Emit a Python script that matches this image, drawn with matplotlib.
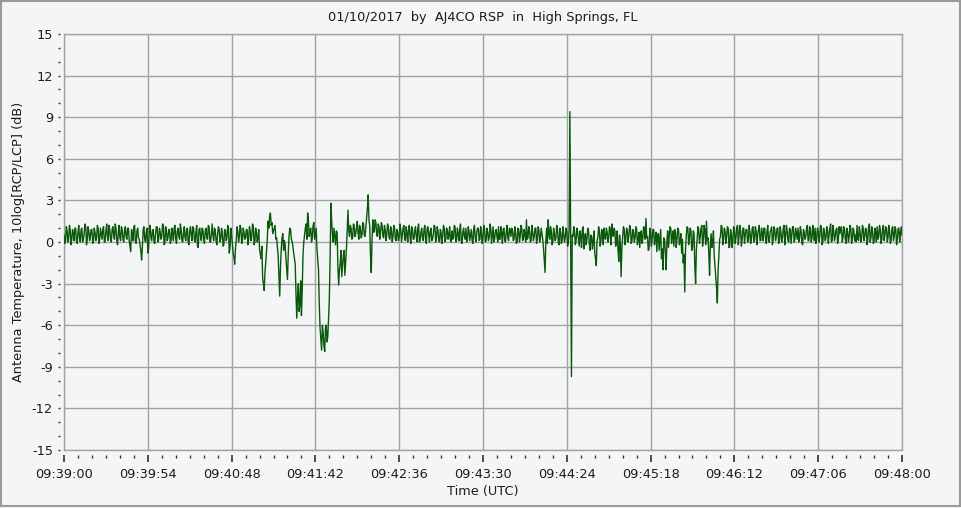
import matplotlib
matplotlib.use("Agg")
import matplotlib.pyplot as plt
import numpy as np
from matplotlib.path import Path
from matplotlib.patches import Rectangle
from matplotlib.ticker import FixedLocator, MultipleLocator

plt.rcParams['font.family'] = ['DejaVu Sans']
plt.rcParams['axes.unicode_minus'] = False

title = "01/10/2017  by  AJ4CO RSP  in  High Springs, FL"
x_label = "Time (UTC)"
y_label = "Antenna Temperature, 10log[RCP/LCP] (dB)"

# readings on whole seconds after 09:39:00 UTC
ratio_db = [
    0.5, 0.1, 0.8, 0.3, 0.9, 0.2, 0.6, 1.0, 0.1, 0.7,
    0.3, 0.9, 0.0, 0.6, 1.1, 0.2, 0.8, 0.4, 0.9, 0.1,
    0.7, 0.3, 1.0, 0.2, 0.6, 0.9, 0.0, 0.8, 0.4, 1.2,
    0.2, 0.9, 0.5, 1.3, 0.1, 0.7, 0.3, 1.1, 0.2, 0.8,
    0.4, 1.0, 0.1, -0.7, 0.6, 1.1, 0.0, 0.8, 0.3, -0.2,
    -1.3, 0.9, 0.2, 0.7, -0.8, 1.0, 0.3, 0.8, 0.0, 0.6,
    1.1, 0.2, 0.7, 0.4, 1.2, -0.1, 0.8, 0.3, 0.9, 0.1,
    0.6, 1.0, 0.2, 0.8, 0.4, 1.3, 0.1, 0.7, 0.3, 0.9,
    0.0, 0.8, 0.5, 1.1, 0.2, 0.7, -0.3, 0.9, 0.4, 1.0,
    0.2, 0.8, 0.3, 1.2, 0.0, 0.7, 0.4, 1.0, 0.1, 0.6,
    0.9, 0.2, 0.7, -0.2, 0.8, 0.3, 1.0, -0.4, 0.5, -0.8,
    -1.6, 0.2, 0.8, 0.4, 1.0, 0.1, 0.7, 0.3, 0.9, 0.2,
    0.8, 0.4, 1.1, 0.0, 0.7, 0.3, -0.5, -1.2, -2.6, -3.5,
    -1.5, 0.2, 1.0, 2.1, 1.4, 0.8, 1.2, 0.3, -1.0, -3.9,
    -0.5, 0.6, 0.1, -1.2, -2.7, 0.4, 0.9, 0.0, -0.8, -1.6,
    -5.5, -3.0, -4.5, -5.3, -1.0, 0.5, 1.3, 2.1, 0.4, 1.0,
    0.3, 1.4, 0.6, -0.5, -2.0, -6.2, -7.8, -6.5, -7.9, -6.0,
    -6.8, -4.0, 2.8, 0.5, 1.0, -0.2, 0.7, -3.1, -1.5, -2.5,
    -1.0, -2.4, -0.5, 2.3, 0.4, 1.0, 0.3, 1.2, 0.6, 1.5,
    0.2, 0.9, 0.5, 1.3, 0.4, 1.8, 3.4, 1.2, -2.2, 1.6,
    0.8, 1.4, 0.4, 1.1, 0.7, 1.2, 0.3, 0.9, 0.5, 1.1,
    0.2, 0.8, 0.4, 1.0, 0.1, 0.7, 0.3, 0.9, 0.5, 1.2,
    0.1, 0.6, 0.9, 0.3, 1.1, 0.2, 0.8, 0.4, 1.0, 0.0,
    0.7, 0.3, 0.9, 0.2, 1.0, 0.5, 0.8, 0.1, 0.6, 1.1,
    0.3, 0.8, 0.0, 0.7, 0.4, 1.0, 0.2, 0.9, 0.5, 0.1,
    0.8, 0.3, 1.1, 0.2, 0.6, 0.9, 0.0, 0.7, 0.4, 1.0,
    0.2, 0.8, 0.5, 0.1, 0.9, 0.3, 0.7, 1.0, 0.2, 0.6,
    0.4, 0.9, 0.1, 0.7, 0.3, 1.0, 0.5, 0.0, 0.8, 0.4,
    1.1, 0.2, 0.6, 0.9, 0.1, 0.7, 0.3, 1.0, 0.4, 0.8,
    0.2, 0.7, 0.0, 0.9, 0.4, 1.0, 0.2, 0.6, 1.6, 0.3,
    0.8, 0.1, 0.7, 0.4, 1.0, 0.2, 0.9, 0.3, 0.6, -0.5,
    -2.2, 1.0, 1.6, 0.2, 0.8, 0.0, 0.6, 0.3, 0.9, -0.2,
    0.7, 0.1, 0.6, 0.3, 0.8, 0.0, 9.4, -9.7, 0.4, 0.8,
    0.1, 0.7, -0.3, 0.5, 0.9, -0.5, 0.6, 0.2, 0.8, -0.6,
    0.4, 0.0, -0.8, -1.7, 0.3, 0.8, 0.1, 0.6, 1.0, 0.2,
    0.7, 0.3, 0.9, 1.3, 0.4, 0.8, 0.0, -0.6, 0.5, -2.5,
    0.3, 0.9, 0.2, 0.8, 0.5, 1.0, 0.1, 0.7, 0.3, 0.9,
    0.2, -0.4, 0.8, 0.3, 1.0, 1.7, 0.4, -0.5, 0.7, 0.2,
    0.9, 0.3, -0.7, 0.6, 0.1, -1.2, -2.0, 0.2, -2.0, 0.8,
    0.3, 1.0, 0.4, -0.3, 0.7, 0.2, 0.9, 0.0, -0.8, -1.5,
    -3.6, 0.5, 1.0, 0.3, 0.8, -0.4, 0.6, -3.0, 0.2, 0.9,
    0.4, 1.2, 0.2, 0.8, 1.5, 0.3, -2.4, 0.6, 0.0, -1.0,
    -2.5, -4.4, -1.0, 0.4, 1.1, 0.2, 0.8, 0.4, 1.0, -0.3,
    0.6, 0.1, 0.9, 0.3, 1.2, 0.4, 0.8, 0.2, 1.0, 0.5,
    0.9, 0.1, 0.7, 0.3, 1.1, 0.2, 0.8, 0.5, 1.2, 0.1,
    0.6, 1.0, 0.3, 0.8, 0.0, 0.7, 1.1, 0.2, 0.9, 0.4,
    1.0, 0.1, 0.7, 0.3, 1.2, 0.4, 0.8, 0.0, 0.9, 0.5,
    1.1, 0.2, 0.6, 1.0, 0.3, 0.8, -0.2, 0.7, 0.4, 1.2,
    0.1, 0.9, 0.3, 0.7, 1.0, 0.2, 0.8, 0.4, 1.1, 0.0,
    0.7, 0.3, 0.9, 0.5, 1.3, 0.1, 0.8, 0.4, 1.0, 0.2,
    0.6, 1.1, 0.3, 0.9, -0.1, 0.7, 0.4, 1.0, 0.2, 0.8,
    0.5, 1.2, 0.1, 0.7, 0.3, 1.0, 0.4, 0.9, 0.2, 1.3,
    0.3, 0.8, 0.0, 0.7, 1.1, 0.4, 0.9, 0.2, 1.2, 0.5,
    1.0, 0.3, 0.8, 0.1, 1.1, 0.4, 0.9, 0.2, 1.0, 0.6,
    0.5,
]

# readings on half seconds (0.5 s after each whole-second reading)
ratio_db_half = [
    -0.1, 1.1, 0.0, 1.2, -0.2, 0.9, 0.1, 1.0, -0.1, 1.2,
    0.0, 1.0, 0.2, 1.3, -0.2, 1.1, 0.1, 0.9, -0.1, 1.0,
    0.1, 1.2, -0.1, 1.0, 0.2, 1.1, 0.0, 1.3, 0.1, 0.9,
    0.0, 1.1, 0.2, 1.0, -0.2, 1.2, 0.1, 0.9, 0.0, 1.1,
    0.2, 1.0, -0.3, 0.9, 0.1, 1.2, -0.1, 1.0, 0.2, -0.6,
    -0.4, 1.1, 0.0, 1.0, -0.5, 1.2, 0.1, 0.9, -0.1, 1.1,
    0.0, 1.0, 0.2, 1.3, -0.2, 1.1, 0.1, 0.9, -0.1, 1.0,
    0.1, 1.2, -0.1, 1.0, 0.2, 0.9, 0.0, 1.1, 0.1, 1.0,
    -0.2, 1.1, 0.1, 1.0, 0.0, 1.2, -0.4, 1.0, 0.1, 0.9,
    -0.1, 1.0, 0.2, 1.1, 0.0, 1.3, 0.1, 0.8, -0.2, 1.1,
    0.0, 1.0, -0.3, 0.9, 0.1, 1.2, -0.8, 1.0, -0.2, -1.1,
    -0.5, 1.1, 0.0, 1.2, -0.1, 1.0, 0.2, 0.9, -0.2, 1.1,
    0.1, 1.3, -0.2, 1.0, 0.0, 0.9, -0.9, -0.3, -3.0, -2.2,
    -0.6, 1.5, 1.8, 1.2, 0.6, 1.0, 0.2, -0.4, -2.5, -1.8,
    0.3, -0.6, -0.2, -2.0, -0.9, 1.0, 0.2, -0.3, -1.2, -3.8,
    -4.0, -5.0, -2.8, -3.5, 0.0, 1.0, 0.2, 1.5, 0.8, 0.0,
    1.2, 0.2, 1.0, -1.2, -4.5, -7.0, -6.0, -7.5, -6.2, -7.2,
    -5.5, -1.0, 1.5, 0.0, 0.4, 0.8, -1.8, -2.0, -0.6, -1.8,
    -0.6, -1.5, 1.0, 0.8, 1.2, 0.2, 1.3, 0.4, 1.0, 0.6,
    1.2, 0.3, 1.4, 0.5, 1.1, 2.4, 1.6, -1.0, 0.2, 0.7,
    1.6, 0.5, 1.3, 0.2, 1.4, 0.4, 1.2, 0.1, 1.3, 0.3,
    1.1, 0.0, 1.2, 0.2, 0.9, 0.1, 1.3, 0.0, 1.0, 0.2,
    1.1, 0.0, 1.2, -0.1, 1.0, 0.2, 1.1, 0.0, 1.3, 0.1,
    1.0, 0.1, 1.2, -0.1, 1.1, 0.0, 1.0, 0.2, 1.2, 0.0,
    1.1, 0.1, 0.9, -0.1, 1.2, 0.0, 1.0, 0.2, 1.1, 0.0,
    0.2, 1.2, 0.0, 1.0, 0.1, 1.3, -0.1, 1.0, 0.2, 0.0,
    1.1, 0.1, 0.9, -0.1, 1.2, 0.0, 1.0, 0.1, 1.1, -0.1,
    1.2, 0.0, 1.0, 0.1, 1.3, -0.1, 1.1, 0.2, 0.9, 0.0,
    0.2, 1.1, -0.1, 1.0, 0.0, 1.2, 0.1, 0.9, 1.0, 0.1,
    1.1, -0.1, 1.0, 0.0, 1.2, 0.1, 0.9, 0.0, 0.2, 1.1,
    0.0, 1.2, 0.1, 1.0, -0.1, 1.1, 0.0, 1.0, 0.2, -1.4,
    0.1, -0.1, 0.6, 1.1, -0.2, 1.0, 0.1, 1.2, 0.0, 1.0,
    -0.1, 1.1, 0.0, 1.0, -0.3, 0.9, 0.0, 0.5, 1.1, -0.2,
    1.0, 0.2, 0.8, -0.4, 1.1, 0.4, -0.2, 1.0, -0.1, 0.5,
    -0.5, 0.8, -1.2, 0.1, 1.1, -0.3, 0.9, -0.2, 0.3, 1.0,
    0.0, 1.1, -0.2, 0.6, 1.0, -0.3, 0.8, -1.4, -0.2, -0.4,
    1.1, -0.2, 1.0, 0.0, 1.2, -0.1, 0.9, 0.0, 1.1, -0.2,
    0.7, 0.6, -0.1, 1.1, 0.2, 0.3, -0.6, 1.0, -0.3, 0.9,
    -0.2, 0.7, 0.5, -0.6, 0.9, -0.5, 0.3, -0.8, 0.0, -0.4,
    1.1, -0.1, 0.8, 0.9, -0.4, 1.0, -0.2, 0.6, 0.2, -0.9,
    -0.6, 1.1, -0.2, 1.0, -0.6, 0.8, -1.8, -0.5, 1.1, -0.1,
    1.0, -0.3, 1.2, -0.2, 0.1, -0.8, -0.2, -0.4, 0.8, -1.8,
    -3.3, -2.0, 0.2, 1.2, -0.2, 1.0, -0.1, 1.1, -0.4, 0.9,
    -0.4, 1.1, -0.1, 1.0, -0.2, 1.2, -0.3, 1.0, -0.1, 0.9,
    0.0, 1.2, -0.1, 1.0, 0.0, 1.1, -0.2, 0.9, 0.1, 1.0,
    0.1, 1.0, -0.1, 1.2, 0.0, 0.9, -0.2, 1.1, 0.1, 1.0,
    -0.1, 1.1, 0.0, 1.0, -0.2, 1.2, 0.1, 1.0, -0.1, 1.1,
    0.0, 1.0, 0.2, 0.0, 1.1, -0.1, 0.9, 0.2, 1.0, 0.1,
    1.1, 0.0, 1.2, 0.1, -0.1, 1.0, 0.0, 1.2, -0.2, 1.0,
    0.1, 1.1, -0.1, 1.0, 0.0, 1.2, 0.1, 0.9, -0.1, 1.1,
    1.0, 0.0, 1.1, 0.2, 1.0, 0.0, 1.2, -0.1, 1.0, 0.1,
    0.0, 0.2, 1.1, 0.0, 1.2, 0.1, 1.0, -0.2, 1.1, 0.0,
    1.1, -0.1, 1.0, 0.0, 0.2, 1.2, -0.1, 1.0, 0.1, 1.1,
    0.0, 1.2, -0.1, 1.0, 0.1, 1.1, -0.2, 1.0, 0.0, 1.1,
]

x_tick_seconds = [0, 54, 108, 162, 216, 270, 324, 378, 432, 486, 540]
x_tick_labels = ["09:39:00", "09:39:54", "09:40:48", "09:41:42", "09:42:36",
                 "09:43:30", "09:44:24", "09:45:18", "09:46:12", "09:47:06",
                 "09:48:00"]
y_ticks = [-15, -12, -9, -6, -3, 0, 3, 6, 9, 12, 15]

bg = "#f4f5f7"
grid_c = "#a3a3a3"
text_c = "#1c1c1c"
line_c = "#0a590a"

# merge the two reading sets in time order
t_whole = np.arange(len(ratio_db), dtype=float)
n_half = min(len(ratio_db_half), len(ratio_db) - 1)
t_half = np.arange(n_half) + 0.5
t_all = np.concatenate([t_whole, t_half])
v_all = np.concatenate([np.asarray(ratio_db, float), np.asarray(ratio_db_half[:n_half], float)])
order = np.argsort(t_all, kind="stable")
t_all = t_all[order]
v_all = v_all[order]

W, H = 962, 508
fig = plt.figure(figsize=(W / 100, H / 100), dpi=100, facecolor=bg)
ax = fig.add_axes([64 / W, 1 - 450 / H, (902 - 64) / W, (450 - 34) / H], facecolor=bg)

ax.plot(t_all, v_all, color=line_c, lw=1.0, zorder=3)

ax.set_xlim(x_tick_seconds[0], x_tick_seconds[-1])
ax.set_ylim(y_ticks[0], y_ticks[-1])
ax.xaxis.set_major_locator(FixedLocator(x_tick_seconds))
ax.set_xticklabels(x_tick_labels)
ax.xaxis.set_minor_locator(MultipleLocator(9))
ax.yaxis.set_major_locator(FixedLocator(y_ticks))
ax.set_yticklabels([str(v) for v in y_ticks])
ax.yaxis.set_minor_locator(MultipleLocator(1))

ax.grid(True, which="major", color=grid_c, lw=1.0, zorder=1)
for s in ax.spines.values():
    s.set_color(grid_c)
    s.set_linewidth(1.0)

ax.tick_params(axis="x", which="both", length=0, pad=13, labelsize=9.3, labelcolor=text_c)
ax.tick_params(axis="y", which="both", length=0, pad=8, labelsize=9.3, labelcolor=text_c)

fig.text(483 / W, 1 - 18 / H, title, ha="center", va="center", fontsize=9.3, color=text_c)
fig.text(483 / W, 1 - 491 / H, x_label, ha="center", va="center", fontsize=9.3, color=text_c)
fig.text(19 / W, 1 - 242 / H, y_label, ha="center", va="center", rotation=90,
         fontsize=9.3, color=text_c)

fig.patches.append(Rectangle((0.5 / W, 2.5 / H), (W - 2) / W, (H - 3.5) / H,
                             transform=fig.transFigure, fill=False,
                             edgecolor="#9a9a9a", lw=1.5))

# detached tick marks (gap between axis and marks)
fig.canvas.draw()
px = 0.72
ymark = Path([(-1, 0), (-0.67, 0)], [Path.MOVETO, Path.LINETO])
xmaj = Path([(0, -1), (0, -0.42)], [Path.MOVETO, Path.LINETO])
xmin = Path([(0, -1), (0, -0.62)], [Path.MOVETO, Path.LINETO])
for tk in ax.yaxis.get_major_ticks() + ax.yaxis.get_minor_ticks():
    tk.tick1line.set_marker(ymark)
    tk.tick1line.set_markersize(12 * px)
    tk.tick1line.set_markeredgewidth(1.0)
    tk.tick1line.set_markeredgecolor("#303030")
for tk in ax.xaxis.get_major_ticks():
    tk.tick1line.set_marker(xmaj)
    tk.tick1line.set_markersize(24 * px)
    tk.tick1line.set_markeredgewidth(1.2)
    tk.tick1line.set_markeredgecolor("#303030")
for tk in ax.xaxis.get_minor_ticks():
    tk.tick1line.set_marker(xmin)
    tk.tick1line.set_markersize(16 * px)
    tk.tick1line.set_markeredgewidth(1.0)
    tk.tick1line.set_markeredgecolor("#303030")

fig.savefig("out.png", dpi=100, facecolor=bg)
